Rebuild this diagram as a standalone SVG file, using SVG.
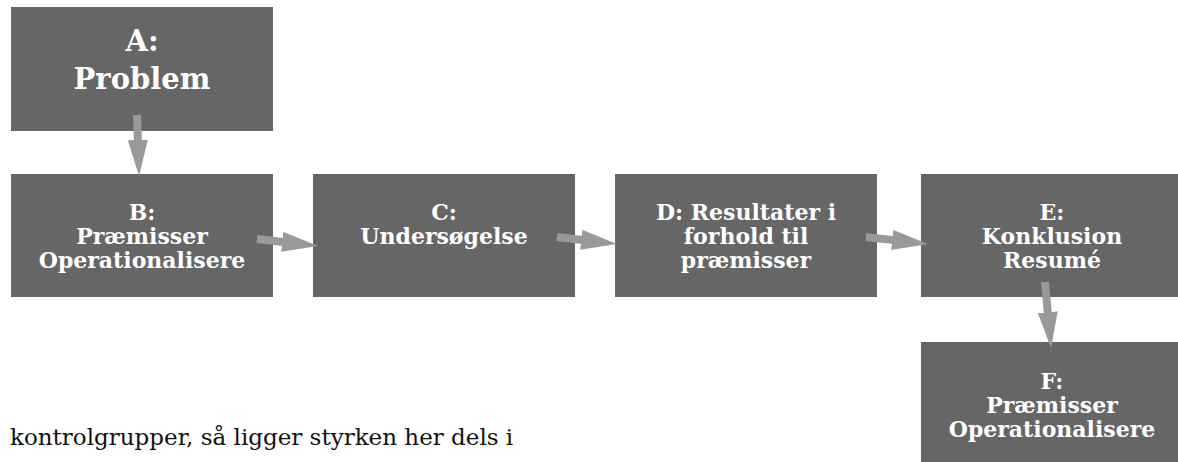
<svg xmlns="http://www.w3.org/2000/svg" width="1178" height="462" viewBox="0 0 1178 462">
<style>
.box{fill:#666666}
.lbl{font-family:"DejaVu Serif","Liberation Serif",serif;font-weight:bold;fill:#ffffff;text-anchor:middle;font-size:22px}
.big{font-size:29px}
.conn{stroke:#999999;stroke-width:8;fill:none;marker-end:url(#ah)}
.body{font-family:"DejaVu Serif","Liberation Serif",serif;font-size:23px;fill:#111111}
</style>
<defs>
<marker id="ah" markerUnits="userSpaceOnUse" markerWidth="36" markerHeight="20" viewBox="0 0 36 20" refX="8" refY="10" orient="auto">
<path d="M0,0 L36,10 L0,20 Z" fill="#999999"/>
</marker>
</defs>
<rect width="1178" height="462" fill="#ffffff"/>
<g id="nodeA"><rect class="box" x="11" y="7" width="262" height="124"/>
<text class="lbl big" x="142" y="51">A:</text><text class="lbl big" x="142" y="89">Problem</text></g>
<g id="nodeB"><rect class="box" x="11" y="174" width="262" height="123"/>
<text class="lbl" x="142" y="220">B:</text><text class="lbl" x="142" y="244">Præmisser</text><text class="lbl" x="142" y="268">Operationalisere</text></g>
<g id="nodeC"><rect class="box" x="313" y="174" width="262" height="123"/>
<text class="lbl" x="444" y="220">C:</text><text class="lbl" x="444" y="244">Undersøgelse</text></g>
<g id="nodeD"><rect class="box" x="615" y="174" width="262" height="123"/>
<text class="lbl" x="746" y="220">D: Resultater i</text><text class="lbl" x="746" y="244">forhold til</text><text class="lbl" x="746" y="268">præmisser</text></g>
<g id="nodeE"><rect class="box" x="921" y="174" width="262" height="123"/>
<text class="lbl" x="1052" y="220">E:</text><text class="lbl" x="1052" y="244">Konklusion</text><text class="lbl" x="1052" y="268">Resumé</text></g>
<g id="nodeF"><rect class="box" x="921" y="342" width="262" height="124"/>
<text class="lbl" x="1052" y="389">F:</text><text class="lbl" x="1052" y="413">Præmisser</text><text class="lbl" x="1052" y="437">Operationalisere</text></g>
<g id="connectors">
<line class="conn" x1="137" y1="115" x2="138.1" y2="148"/>
<line class="conn" x1="257" y1="239" x2="290.2" y2="242.8"/>
<line class="conn" x1="557" y1="237" x2="589.2" y2="240.8"/>
<line class="conn" x1="866" y1="237" x2="900.2" y2="240.9"/>
<line class="conn" x1="1045" y1="282" x2="1048.5" y2="320.1"/>
</g>
<text class="body" x="10" y="445">kontrolgrupper, så ligger styrken her dels i</text>
</svg>
